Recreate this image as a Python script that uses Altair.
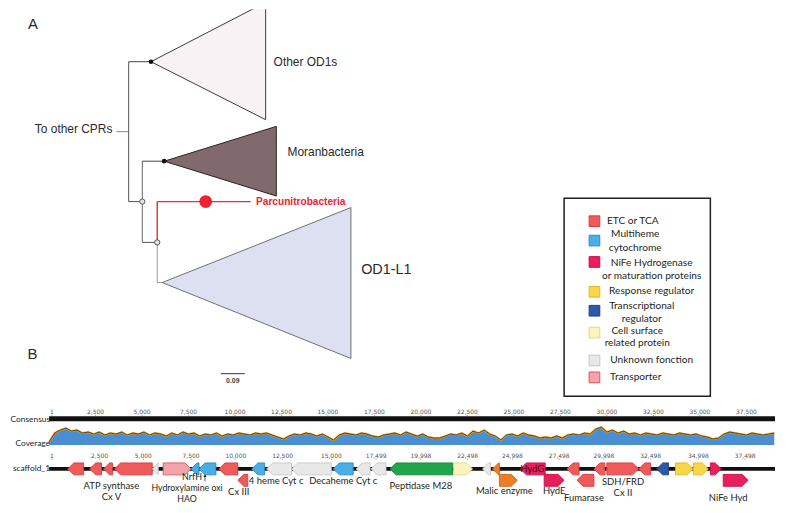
import altair as alt
import pandas as pd

W, HA, HB = 771, 395, 102

# ---------------- Panel A : tree layout (panel units) ----------------
clade_names = ["Other OD1s", "Moranbacteria", "OD1-L1"]
clade_apex_x = [143.7, 157.0, 155.0]
clade_apex_y = [52.7, 152.7, 274.7]
clade_right_x = [259.0, 269.7, 344.7]
clade_top_y = [-7.0, 117.7, 199.3]
clade_bottom_y = [111.0, 187.7, 351.0]
clade_fill = ["#f8f2f4", "#806a6e", "#dde0f1"]
clade_stroke = ["#3a3a3a", "#2a2020", "#707070"]

branch_x1 = [109.0, 121.3, 121.3, 121.3, 135.0, 135.0, 135.0, 150.0, 150.0, 150.0, 150.0, 214.0]
branch_y1 = [123.0, 52.7, 52.7, 193.3, 152.7, 152.7, 234.3, 193.3, 193.3, 234.3, 274.7, 366.3]
branch_x2 = [121.3, 121.3, 143.7, 135.0, 135.0, 157.0, 150.0, 150.0, 244.0, 150.0, 155.0, 238.0]
branch_y2 = [123.0, 193.3, 52.7, 193.3, 234.3, 152.7, 234.3, 234.3, 193.3, 274.7, 274.7, 366.3]
branch_col = ["#8a8a8a", "#555555", "#444444", "#555555", "#666666", "#444444",
              "#555555", "#ee2a35", "#ee2a35", "#9a9a9a", "#9a9a9a", "#333333"]
branch_w = [1, 1, 1, 1, 1, 1, 1, 1.4, 1.4, 1, 1, 1]

dot_x = [143.7, 157.0]
dot_y = [52.7, 152.7]
open_x = [135.0, 150.0]
open_y = [193.3, 234.3]
red_dot_x = [198.7]
red_dot_y = [193.3]

tree_label_text = ["To other CPRs", "Other OD1s", "Moranbacteria"]
tree_label_x = [27.0, 267.0, 281.0]
tree_label_y = [120.5, 53.0, 143.0]

# ---------------- Legend ----------------
legend_cats = ["ETC or TCA", "Multiheme cytochrome", "NiFe Hydrogenase or maturation proteins",
               "Response regulator", "Transcriptional regulator", "Cell surface related protein",
               "Unknown fonction", "Transporter"]
legend_lines = [["ETC or TCA"], ["Multiheme", "cytochrome"], ["NiFe Hydrogenase", "or maturation proteins"],
                ["Response regulator"], ["Transcriptional", "regulator"], ["Cell surface", "related protein"],
                ["Unknown fonction"], ["Transporter"]]
legend_swatch_y = [213.0, 232.5, 254.0, 284.0, 303.0, 325.0, 353.0, 370.0]
legend_text_x = [628.0, 630.5, 647.0, 647.0, 637.0, 632.5, 647.0, 631.0]
legend_text_y = [[213.0], [226.3, 240.3], [254.7, 268.0], [283.3], [298.0, 311.0], [323.0, 335.0], [353.0], [370.0]]

cat_names = legend_cats + ["Peptidase", "Malic enzyme"]
cat_fill = ["#f15a5a", "#4aaee6", "#e91e5c", "#f9d648", "#2f57a6", "#fbf5bd", "#e8e8e8", "#f2a3ab",
            "#1fa64b", "#ee7d24"]
cat_stroke = ["#d83c3c", "#2b8bc8", "#c8104a", "#e0b820", "#1f3f86", "#e0d88a", "#c6c6c6", "#e05555",
              "#158a3a", "#d0661a"]

# ---------------- Panel B : genome ----------------
ruler_top_pos = [150, 2500, 5000, 7500, 10000, 12500, 15000, 17500, 20000, 22500, 25000, 27500,
                 30000, 32500, 35000, 37500]
ruler_top_text = ["1", "2,500", "5,000", "7,500", "10,000", "12,500", "15,000", "17,500", "20,000",
                  "22,500", "25,000", "27,500", "30,000", "32,500", "35,000", "37,500"]
scaffold_ruler_pos = [150, 2712, 5066, 7634, 10042, 12557, 15178, 17585, 19993, 22508, 24915, 27430,
                      29837, 32352, 34920, 37434]
scaffold_ruler_text = ["1", "2,500", "5,000", "7,500", "10,000", "12,500", "15,000", "17,499", "19,998",
                       "22,498", "24,998", "27,498", "29,998", "32,498", "34,998", "37,498"]

cov_step = 300
coverage = [3, 12, 15, 17, 14, 15, 12, 13, 11, 13,
            10, 12, 11, 13, 10, 12, 11, 13, 10, 12,
            11, 9, 12, 10, 13, 11, 12, 9, 11, 10,
            12, 9, 11, 10, 12, 11, 10, 12, 11, 12,
            10, 8, 6, 9, 11, 10, 12, 11, 9, 11,
            8, 5, 10, 12, 11, 10, 12, 11, 9, 8,
            10, 11, 12, 10, 13, 11, 9, 11, 8, 7,
            7, 9, 11, 10, 12, 9, 14, 12, 15, 11,
            9, 5, 10, 11, 9, 12, 10, 9, 7, 8,
            7, 9, 7, 10, 11, 10, 12, 11, 16, 18,
            13, 15, 12, 14, 11, 12, 10, 12, 11, 10,
            12, 11, 10, 12, 11, 10, 11, 9, 8, 6,
            7, 11, 13, 12, 11, 10, 12, 11, 10, 11,
            12]

genome_end = 39042
gene_start = [1000, 2177, 2926, 3515, 5548, 6136, 7634, 8062, 9132, 10898, 11700, 13038, 15285, 16515,
              17318, 18334, 21758, 23310, 23845, 25343, 27857, 29302, 29997, 31709, 32672, 33689, 34651,
              35562, 10149, 24219, 26627, 28392, 36257]
gene_end = [1856, 2819, 3408, 5548, 5869, 7634, 8062, 8972, 10149, 11593, 13038, 15178, 16355, 17264,
            18120, 21705, 22775, 23738, 24219, 26680, 28499, 29890, 31709, 32351, 33314, 34651, 35455,
            36151, 10684, 25182, 27697, 29302, 37595]
gene_strand = ["-", "-", "-", "-", "-", "+", "-", "-", "-", "-", "-", "-", "-", "-",
               "-", "-", "+", "-", "-", "-", "-", "-", "+", "-", "-", "+", "+",
               "+", "-", "+", "+", "-", "+"]
gene_row = [1] * 28 + [2] * 5
gene_cat = ["ETC or TCA"] * 4 + ["Unknown fonction", "Transporter", "Multiheme cytochrome",
            "Multiheme cytochrome", "ETC or TCA", "Multiheme cytochrome", "Unknown fonction",
            "Unknown fonction", "Multiheme cytochrome", "Unknown fonction", "Unknown fonction",
            "Peptidase", "Cell surface related protein", "Unknown fonction", "Malic enzyme",
            "NiFe Hydrogenase or maturation proteins", "ETC or TCA", "ETC or TCA", "ETC or TCA",
            "ETC or TCA", "Transcriptional regulator", "Response regulator", "Response regulator",
            "NiFe Hydrogenase or maturation proteins",
            "ETC or TCA", "Malic enzyme", "NiFe Hydrogenase or maturation proteins", "ETC or TCA",
            "NiFe Hydrogenase or maturation proteins"]

gene_label_text = ["ATP synthase", "Cx V", "NrfH", "Hydroxylamine oxi", "HAO", "Cx III", "4 heme Cyt c",
                   "Decaheme Cyt c", "Peptidase M28", "Malic enzyme", "HydE", "Fumarase", "SDH/FRD",
                   "Cx II", "NiFe Hyd"]
gene_label_bp = [3350, 3350, 7690, 7420, 7420, 10202, 12209, 15820, 19993, 24487, 27162, 28766, 30865,
                 30865, 36526]
gene_label_y = [84.0, 95.5, 75.0, 86.0, 96.8, 90.0, 79.0, 79.0, 84.5, 89.5, 89.5, 96.5, 80.0, 91.5, 96.5]
gene_label_size = [9.5, 9.5, 9.0, 8.8, 8.8, 9.5, 9.5, 9.5, 9.5, 9.5, 9.5, 9.5, 9.5, 9.5, 9.5]

row_label_text = ["Consensus", "Coverage", "scaffold_1"]
row_label_y = [17.0, 41.0, 66.5]

# ---------------- build tables ----------------
cat_scale = alt.Scale(domain=cat_names, range=cat_fill)
stroke_of = dict(zip(cat_names, cat_stroke))

xA = lambda f="x": alt.X(f"{f}:Q", scale=alt.Scale(domain=[0, W], nice=False, zero=False), axis=None)
yA = lambda f="y": alt.Y(f"{f}:Q", scale=alt.Scale(domain=[HA, 0], nice=False, zero=False), axis=None)
xB = lambda f="x": alt.X(f"{f}:Q", scale=alt.Scale(domain=[-2210, genome_end], nice=False, zero=False), axis=None)
yB = lambda f="y": alt.Y(f"{f}:Q", scale=alt.Scale(domain=[HB, 0], nice=False, zero=False), axis=None)

tri = []
for i, n in enumerate(clade_names):
    tri.append(dict(clade=n, x=clade_apex_x[i], y=clade_apex_y[i], y2=clade_apex_y[i],
                    f=clade_fill[i], s=clade_stroke[i]))
    tri.append(dict(clade=n, x=clade_right_x[i], y=clade_top_y[i], y2=clade_bottom_y[i],
                    f=clade_fill[i], s=clade_stroke[i]))
tri = pd.DataFrame(tri)

clades = alt.Chart(tri).mark_area(clip=True, opacity=1, strokeWidth=1, interpolate="linear").encode(
    x=xA(), y=yA(), y2="y2:Q", detail="clade:N",
    fill=alt.Fill("f:N", scale=None), stroke=alt.Stroke("s:N", scale=None))

br = pd.DataFrame(dict(x=branch_x1, y=branch_y1, x2=branch_x2, y2=branch_y2, c=branch_col, w=branch_w))
branches = alt.Chart(br).mark_rule().encode(
    x=xA(), y=yA(), x2="x2:Q", y2="y2:Q",
    color=alt.Color("c:N", scale=None), strokeWidth=alt.StrokeWidth("w:Q", scale=None))

dots = alt.Chart(pd.DataFrame(dict(x=dot_x, y=dot_y))).mark_circle(size=22, color="#111111", opacity=1).encode(
    x=xA(), y=yA())
opens = alt.Chart(pd.DataFrame(dict(x=open_x, y=open_y))).mark_point(
    filled=True, shape="circle", size=28, color="#e4e4e4", stroke="#555555", strokeWidth=1, opacity=1).encode(
    x=xA(), y=yA())
red_dot = alt.Chart(pd.DataFrame(dict(x=red_dot_x, y=red_dot_y))).mark_point(
    filled=True, shape="circle", size=165, color="#ee2233", opacity=1).encode(x=xA(), y=yA())

def textA(df, **kw):
    base = dict(baseline="middle", font="Liberation Sans", color="#2a2a2a")
    base.update(kw)
    return alt.Chart(df).mark_text(**base).encode(x=xA(), y=yA(), text="t:N")

tree_labels = textA(pd.DataFrame(dict(t=tree_label_text, x=tree_label_x, y=tree_label_y)),
                    align="left", fontSize=12)
od1l1 = textA(pd.DataFrame(dict(t=["OD1-L1"], x=[355.0], y=[262.0])), align="left", fontSize=14.5)
parcu = textA(pd.DataFrame(dict(t=["Parcunitrobacteria"], x=[249.3], y=[193.3])),
              align="left", fontSize=10.2, fontWeight="bold", color="#ee2233")
scale_txt = textA(pd.DataFrame(dict(t=["0.09"], x=[226.0], y=[373.7])), align="center", fontSize=7,
                  fontWeight="bold", color="#444444")
panel_letters = textA(pd.DataFrame(dict(t=["A", "B"], x=[25.0, 24.5], y=[15.0, 347.0])),
                      align="center", fontSize=15)

legend_box = alt.Chart(pd.DataFrame(dict(x=[559.0], x2=[706.0], y=[190.0], y2=[389.0]))).mark_rect(
    fill="white", stroke="#231f20", strokeWidth=1.5).encode(x=xA(), x2="x2:Q", y=yA(), y2="y2:Q")
sw = pd.DataFrame(dict(cat=legend_cats, x=[589.5] * len(legend_cats), y=legend_swatch_y,
                       s=[stroke_of[c] for c in legend_cats]))
swatches = alt.Chart(sw).mark_square(size=115, opacity=1, strokeWidth=1).encode(
    x=xA(), y=yA(), color=alt.Color("cat:N", scale=cat_scale, legend=None),
    stroke=alt.Stroke("s:N", scale=None))
lt = []
for i, lines in enumerate(legend_lines):
    for j, line in enumerate(lines):
        lt.append(dict(t=line, x=legend_text_x[i], y=legend_text_y[i][j]))
legend_text = alt.Chart(pd.DataFrame(lt)).mark_text(
    align="center", baseline="middle", font="Lato", fontSize=10.2, color="#231f20").encode(
    x=xA(), y=yA(), text="t:N")

panelA = alt.layer(clades, branches, dots, opens, red_dot, tree_labels, od1l1, parcu, scale_txt,
                   panel_letters, legend_box, swatches, legend_text).properties(width=W, height=HA)

# ---- panel B tables ----
row_center = {1: 67.0, 2: 78.5}
half, head = 6.0, 330
poly = []
for g in range(len(gene_start)):
    s, e, c = gene_start[g], gene_end[g], row_center[gene_row[g]]
    hl = min(head, e - s)
    if gene_strand[g] == "-":
        pts = [(s, c, c)] + ([(s + hl, c - half, c + half)] if hl < e - s else []) + [(e, c - half, c + half)]
    else:
        pts = [(s, c - half, c + half)] + ([(e - hl, c - half, c + half)] if hl < e - s else []) + [(e, c, c)]
    for (px, y1, y2) in pts:
        poly.append(dict(gid=g, x=px, y=y1, y2=y2, cat=gene_cat[g], s=stroke_of[gene_cat[g]]))
poly = pd.DataFrame(poly)

genes = alt.Chart(poly).mark_area(opacity=1, strokeWidth=0.9, interpolate="linear").encode(
    x=xB(), y=yB(), y2="y2:Q", detail="gid:N",
    color=alt.Color("cat:N", scale=cat_scale, legend=None), stroke=alt.Stroke("s:N", scale=None))

cov_base = 43.0
cov = pd.DataFrame(dict(x=[i * cov_step for i in range(len(coverage))], c=coverage))
cov_chart = alt.Chart(cov).transform_calculate(y=f"{cov_base} - datum.c", y2=f"{cov_base}")
cov_area = cov_chart.mark_area(color="#4a8fd2", opacity=1).encode(x=xB(), y=yB(), y2="y2:Q")
cov_orange = cov_chart.mark_line(color="#f5a31a", strokeWidth=2).encode(x=xB(), y=yB())
cov_black = cov_chart.mark_line(color="#1a1a1a", strokeWidth=0.7).encode(x=xB(), y=yB())

bars = pd.DataFrame(dict(x=[1, 1], x2=[genome_end, genome_end], y=[16.5, 67.0], w=[5.0, 3.6]))
bars_chart = alt.Chart(bars).mark_rule(color="#111111", clip=True).encode(
    x=xB(), x2="x2:Q", y=yB(), strokeWidth=alt.StrokeWidth("w:Q", scale=None))

def textB(df, **kw):
    base = dict(baseline="middle", align="center", font="Lato", fontSize=9.5, color="#231f20")
    base.update(kw)
    return alt.Chart(df).mark_text(**base).encode(x=xB(), y=yB(), text="t:N")

rt = pd.DataFrame(dict(t=ruler_top_text, x=ruler_top_pos, y=[10.0] * len(ruler_top_pos)))
rs = pd.DataFrame(dict(t=scaffold_ruler_text, x=scaffold_ruler_pos, y=[54.0] * len(scaffold_ruler_pos)))
ruler_top = textB(rt, font="DejaVu Sans", fontSize=6, color="#555555")
ruler_sc = textB(rs, font="DejaVu Sans", fontSize=6, color="#555555")
ticks = pd.DataFrame(dict(x=ruler_top_pos + scaffold_ruler_pos,
                          y=[12.6] * len(ruler_top_pos) + [56.6] * len(scaffold_ruler_pos),
                          y2=[14.0] * len(ruler_top_pos) + [58.0] * len(scaffold_ruler_pos)))
tick_chart = alt.Chart(ticks).mark_rule(color="#888888", strokeWidth=0.7).encode(x=xB(), y=yB(), y2="y2:Q")

gl = pd.DataFrame(dict(t=gene_label_text, x=gene_label_bp, y=gene_label_y, s=gene_label_size))
gene_labels = alt.Chart(gl).mark_text(baseline="middle", align="center", font="Lato", color="#231f20").encode(
    x=xB(), y=yB(), text="t:N", size=alt.Size("s:Q", scale=None))
hydg = textB(pd.DataFrame(dict(t=["HydG"], x=[25985], y=[67.0])), color="#3a0a18")
row_labels = textB(pd.DataFrame(dict(t=row_label_text, x=[50] * 3, y=row_label_y)),
                   align="right", fontSize=8.4, clip=True)
arrow_line = alt.Chart(pd.DataFrame(dict(x=[8384], y=[73.8], y2=[79.5]))).mark_rule(
    color="#231f20", strokeWidth=0.8).encode(x=xB(), y=yB(), y2="y2:Q")
arrow_head = alt.Chart(pd.DataFrame(dict(x=[8384], y=[73.8]))).mark_point(
    shape="triangle-up", filled=True, size=10, color="#231f20", opacity=1).encode(x=xB(), y=yB())

panelB = alt.layer(bars_chart, cov_area, cov_orange, cov_black, tick_chart, ruler_top, ruler_sc, genes,
                   hydg, gene_labels, row_labels, arrow_line, arrow_head).properties(width=W, height=HB)

chart = alt.vconcat(panelA, panelB, spacing=0).resolve_scale(
    x="independent", y="independent").properties(padding=0, background="white").configure_view(stroke=None)

chart.save("out.html", embed_options={"renderer": "svg", "actions": False})
